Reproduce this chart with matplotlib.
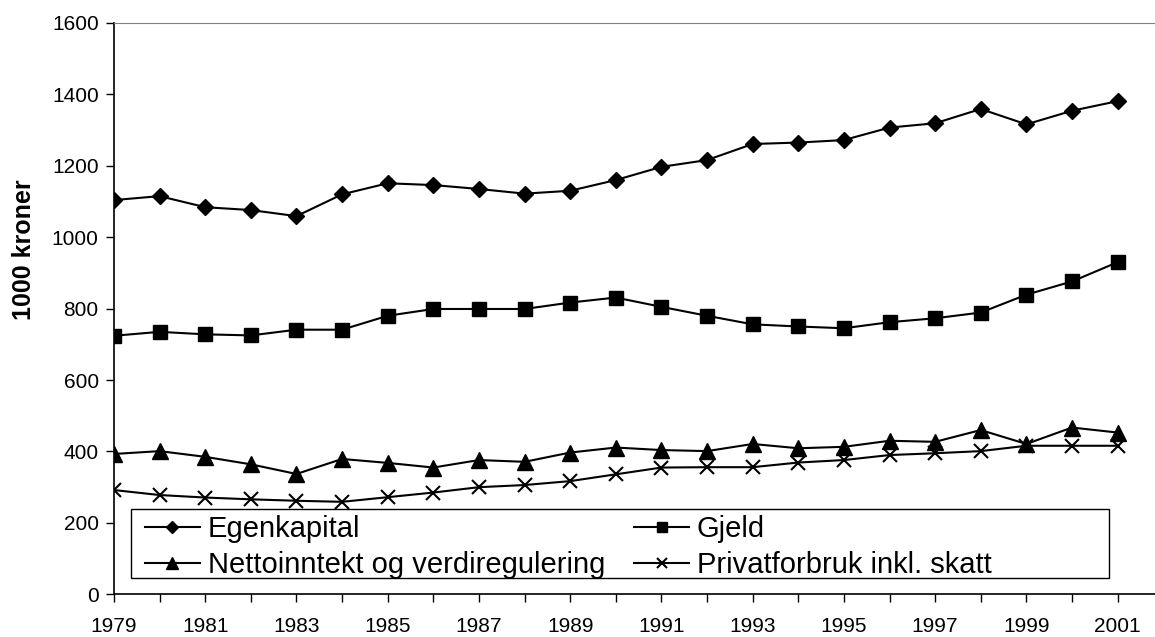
import matplotlib.pyplot as plt
from matplotlib.patches import Rectangle

plt.rcParams['font.family'] = ['Liberation Sans', 'DejaVu Sans']

# data (1000 kroner)
years = list(range(1979, 2002))
egenkapital = [1104, 1115, 1084, 1076, 1059, 1120, 1151, 1146, 1135, 1122, 1130, 1160,
               1197, 1216, 1261, 1265, 1272, 1307, 1319, 1359, 1316, 1354, 1381]
gjeld = [724, 735, 728, 725, 741, 741, 780, 799, 799, 799, 817, 831,
         805, 780, 756, 750, 745, 762, 773, 789, 839, 876, 930]
nettoinntekt = [393, 401, 385, 364, 337, 379, 368, 355, 376, 371, 397, 411,
                404, 401, 421, 409, 413, 430, 427, 460, 421, 467, 453]
privatforbruk = [292, 278, 271, 266, 262, 259, 272, 285, 300, 306, 317, 336,
                 355, 356, 356, 369, 376, 390, 395, 401, 416, 416, 416]

fig = plt.figure(figsize=(11.55, 6.37), dpi=100)
ax = fig.add_axes([0.0987, 0.067, 0.9013, 0.897])

l1, = ax.plot(years, egenkapital, 'k-', marker='D', ms=8, lw=1.5, label='Egenkapital')
l2, = ax.plot(years, gjeld, 'k-', marker='s', ms=10.5, lw=1.5, label='Gjeld')
l3, = ax.plot(years, nettoinntekt, 'k-', marker='^', ms=11, lw=1.5,
              label='Nettoinntekt og verdiregulering')
l4, = ax.plot(years, privatforbruk, 'k-', marker='x', ms=10, mew=1.5, lw=1.5,
              label='Privatforbruk inkl. skatt')

ax.set_xlim(1979, 2001.82)
ax.set_ylim(0, 1600)
ax.set_yticks(range(0, 1601, 200))
ax.set_xticks(years)
ax.set_xticklabels([str(y) if (y - 1979) % 2 == 0 else '' for y in years])
ax.tick_params(axis='both', direction='out', length=6, width=1, labelsize=15, colors='black')
ax.tick_params(axis='y', pad=5)
ax.tick_params(axis='x', pad=10.5)

ax.spines['right'].set_visible(False)
ax.spines['top'].set_color('#808080')
ax.spines['left'].set_linewidth(1.2)
ax.spines['bottom'].set_linewidth(1.2)

ax.set_ylabel('1000 kroner', fontsize=18, fontweight='bold')
ax.yaxis.set_label_coords(-0.075, 0.603)

# legend frame drawn separately, Excel-style fixed width
ax.add_patch(Rectangle((0.016, 0.0285), 0.940, 0.1205, transform=ax.transAxes,
                       facecolor='white', edgecolor='black', lw=1, zorder=4))
leg = ax.legend(handles=[l1, l3, l2, l4], ncol=2, loc='upper left',
                bbox_to_anchor=(0.0298, 0.1388), borderaxespad=0, borderpad=0,
                frameon=False, fontsize=21, handlelength=1.88, handletextpad=0.27,
                columnspacing=1.0, labelspacing=0.28, markerscale=0.75)
leg.set_zorder(5)

plt.savefig('out.png', dpi=100)
